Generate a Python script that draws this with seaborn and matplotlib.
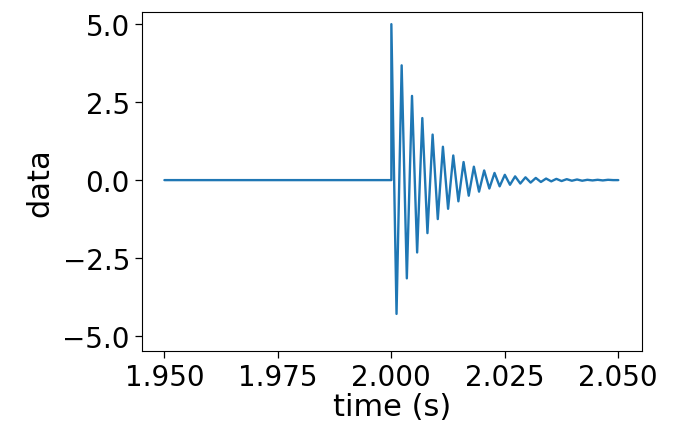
import matplotlib
matplotlib.use("Agg")
import matplotlib.pyplot as plt
import seaborn as sns
import pandas as pd

# flat part before the impulse, then the extrema of the ringing
times = [1.95, 2.0, 2.0,
         2.00114, 2.00227, 2.00341, 2.00455, 2.00568, 2.00682, 2.00795, 2.00909,
         2.01023, 2.01136, 2.0125, 2.01364, 2.01477, 2.01591, 2.01705, 2.01818,
         2.01932, 2.02045, 2.02159, 2.02273, 2.02386, 2.025, 2.02614, 2.02727,
         2.02841, 2.02955, 2.03068, 2.03182, 2.03295, 2.03409, 2.03523, 2.03636,
         2.0375, 2.03864, 2.03977, 2.04091, 2.04205, 2.04318, 2.04432, 2.04545,
         2.04659, 2.04773, 2.04886, 2.05]
values = [0.0, 0.0, 5.0,
          -4.29, 3.68, -3.15, 2.70, -2.32, 1.99, -1.70, 1.46,
          -1.25, 1.07, -0.92, 0.79, -0.68, 0.58, -0.50, 0.43,
          -0.37, 0.31, -0.27, 0.23, -0.20, 0.17, -0.15, 0.12,
          -0.11, 0.09, -0.08, 0.07, -0.06, 0.05, -0.04, 0.04,
          -0.03, 0.03, -0.02, 0.02, -0.02, 0.01, -0.01, 0.01,
          -0.01, 0.01, 0.0, 0.0]

xticks = [1.950, 1.975, 2.000, 2.025, 2.050]
xticklabels = ["1.950", "1.975", "2.000", "2.025", "2.050"]
yticks = [-5.0, -2.5, 0.0, 2.5, 5.0]
yticklabels = ["\u22125.0", "\u22122.5", "0.0", "2.5", "5.0"]

sns.set_style("ticks")
plt.rcParams["font.family"] = ["DejaVu Sans"]

df = pd.DataFrame({"time": times, "data": values})

fig = plt.figure(figsize=(6.87, 4.27), dpi=100)
ax = fig.add_axes([0.2063, 0.1763, 0.7287, 0.794])
sns.lineplot(data=df, x="time", y="data", estimator=None, sort=False,
             color="#1f77b4", linewidth=1.7, ax=ax)

ax.set_xlim(1.945, 2.0553)
ax.set_ylim(-5.47, 5.40)
ax.set_xticks(xticks)
ax.set_xticklabels(xticklabels)
ax.set_yticks(yticks)
ax.set_yticklabels(yticklabels)
ax.tick_params(labelsize=20, color="black", labelcolor="black", length=5, width=0.9)
ax.set_xlabel("time (s)", fontsize=22, color="black", labelpad=1)
ax.set_ylabel("data", fontsize=22, color="black", labelpad=6)
for s in ax.spines.values():
    s.set_color("black")
    s.set_linewidth(0.8)

fig.savefig("out.png", dpi=100)
